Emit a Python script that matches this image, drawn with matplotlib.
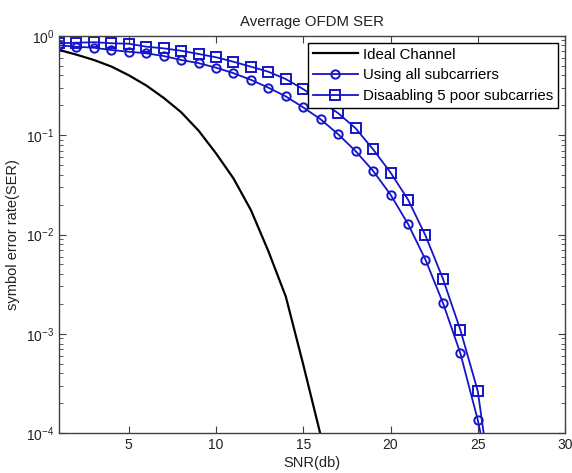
import matplotlib
matplotlib.use("Agg")
import matplotlib.pyplot as plt
import numpy as np

plt.rcParams['font.family'] = ['Liberation Sans', 'DejaVu Sans']

snr_ideal = [1, 2, 3, 4, 5, 6, 7, 8, 9, 10, 11, 12, 13, 14, 15, 16]
ser_ideal = [0.72, 0.645, 0.57, 0.49, 0.40, 0.316, 0.237, 0.17, 0.111, 0.0655,
             0.0367, 0.0176, 0.0068, 0.00237, 4.9e-4, 9.5e-5]

snr = list(range(1, 27))
ser_all = [0.80, 0.775, 0.757, 0.718, 0.69, 0.665, 0.625, 0.57, 0.53, 0.477,
           0.42, 0.36, 0.30, 0.245, 0.19, 0.144, 0.102, 0.069, 0.0437, 0.0252,
           0.0128, 0.0056, 0.00206, 6.4e-4, 1.36e-4, 2e-5]
ser_dis = [0.84, 0.85, 0.86, 0.84, 0.83, 0.776, 0.746, 0.706, 0.655, 0.607,
           0.547, 0.488, 0.434, 0.366, 0.29, 0.22, 0.166, 0.117, 0.072, 0.042,
           0.0225, 0.0098, 0.0036, 0.0011, 2.66e-4, 1.5e-5]

labels = ['Ideal Channel', 'Using all subcarriers', 'Disaabling 5 poor subcarries']

fig = plt.figure(figsize=(5.72, 4.73), dpi=100)
ax = fig.add_axes([0.1031, 0.0839, 0.8847, 0.8406])

blue = '#1414c8'
ax.semilogy(snr_ideal, ser_ideal, color='black', lw=1.6, label=labels[0])
ax.semilogy(snr, ser_all, color=blue, lw=1.3, marker='o', ms=6, mfc='none',
            mec=blue, mew=1.4, label=labels[1])
ax.semilogy(snr, ser_dis, color=blue, lw=1.3, marker='s', ms=7, mfc='none',
            mec=blue, mew=1.4, label=labels[2])

ax.set_xlim(1, 30)
ax.set_ylim(1e-4, 1)
ax.set_xticks([5, 10, 15, 20, 25, 30])

axcol = '#404040'
for s in ax.spines.values():
    s.set_color(axcol)
    s.set_linewidth(1.0)
ax.tick_params(which='both', direction='in', top=True, right=True, colors=axcol,
               labelcolor='#222222', labelsize=10)
ax.tick_params(which='major', length=5)
ax.tick_params(which='minor', length=3)

ax.set_title('Averrage OFDM SER', fontsize=10.8, pad=7, color='#222222')
ax.set_xlabel('SNR(db)', fontsize=10.5, labelpad=3, color='#222222')
ax.set_ylabel('symbol error rate(SER)', fontsize=10.5, labelpad=4, color='#222222')

leg = ax.legend(loc='upper right', fontsize=10.8, frameon=True, fancybox=False,
                edgecolor='black', framealpha=1, borderpad=0.3, labelspacing=0.45,
                handlelength=3.0, handletextpad=0.35, borderaxespad=0.5)
leg.get_frame().set_linewidth(1.0)

fig.savefig('out.png', dpi=100)
